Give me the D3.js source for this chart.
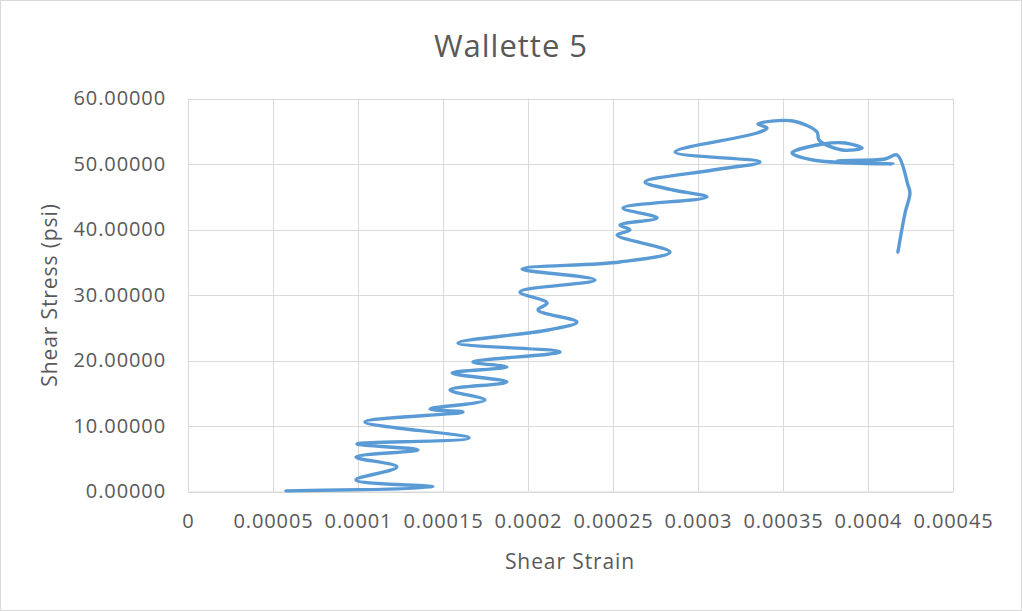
<!DOCTYPE html>
<html>
<head>
<meta charset="utf-8">
<script src="https://cdn.jsdelivr.net/npm/d3@7"></script>
<style>
  html, body { margin: 0; padding: 0; background: #fff; }
  svg { display: block; }
  text { font-family: "Open Sans", "Noto Sans", sans-serif; fill: #595959; }
</style>
</head>
<body>
<svg id="chart" width="1022" height="611"></svg>
<script>
// ---- data ----
const title = "Wallette 5";
const xLabel = "Shear Strain";
const yLabel = "Shear Stress (psi)";
const xTicks = [0, 0.00005, 0.0001, 0.00015, 0.0002, 0.00025, 0.0003, 0.00035, 0.0004, 0.00045];
const xTickLabels = ["0", "0.00005", "0.0001", "0.00015", "0.0002", "0.00025", "0.0003", "0.00035", "0.0004", "0.00045"];
const yTicks = [0, 10, 20, 30, 40, 50, 60];
const yTickLabels = ["0.00000", "10.00000", "20.00000", "30.00000", "40.00000", "50.00000", "60.00000"];

const shearStrain = [
  0.0000576, 0.0001441, 0.0000988, 0.0001229, 0.0000988, 0.0001353, 0.0000994, 0.0001653,
  0.0001041, 0.0001618, 0.0001424, 0.0001747, 0.0001541, 0.0001876, 0.0001553, 0.0001876,
  0.0001676, 0.0002188, 0.0001588, 0.0002118, 0.0002288, 0.0002059, 0.0002112, 0.0001953,
  0.0002394, 0.0001965, 0.0002541, 0.0002835, 0.0002524, 0.0002600, 0.0002541, 0.0002759,
  0.0002559, 0.0003053, 0.0002853, 0.0002688, 0.0003088, 0.0003365, 0.0002865, 0.0003347,
  0.0003406, 0.0003353, 0.0003559, 0.0003700, 0.0003712, 0.0003847, 0.0003965, 0.0003865,
  0.0003735, 0.0003553, 0.0003676, 0.0004147, 0.0003818, 0.0004100, 0.0004171, 0.0004235,
  0.0004247, 0.0004218, 0.0004176
];
const shearStress = [
  0.10, 0.69, 1.76, 3.74, 5.27, 6.34, 7.25, 8.17,
  10.61, 12.14, 12.60, 13.97, 15.50, 16.72, 18.09, 19.01,
  19.77, 21.30, 22.67, 24.66, 25.88, 27.71, 28.78, 30.46,
  32.29, 33.97, 35.04, 36.56, 39.16, 39.92, 40.69, 41.76,
  43.28, 44.96, 46.03, 47.25, 49.08, 50.31, 51.83, 54.73,
  55.50, 56.11, 56.56, 54.89, 53.66, 52.14, 52.44, 53.21,
  53.05, 51.68, 50.61, 50.00, 50.46, 50.76, 51.37, 46.79,
  45.57, 42.52, 36.56
];

// ---- layout ----
const W = 1022, H = 611;
const plot = { left: 188, right: 953, top: 98.5, bottom: 491.5 };

const svg = d3.select("#chart");

// outer border
svg.append("rect")
  .attr("x", 0.5).attr("y", 0.5)
  .attr("width", W - 1).attr("height", H - 1)
  .attr("fill", "#fff").attr("stroke", "#d9d9d9").attr("stroke-width", 1);

const x = d3.scaleLinear().domain([0, 0.00045]).range([plot.left, plot.right]);
const y = d3.scaleLinear().domain([0, 60]).range([plot.bottom, plot.top]);

// gridlines
const grid = svg.append("g");
grid.selectAll("line.h").data(yTicks).join("line")
  .attr("x1", plot.left).attr("x2", plot.right)
  .attr("y1", d => Math.round(y(d)) + 0.5).attr("y2", d => Math.round(y(d)) + 0.5)
  .attr("stroke", "#d9d9d9").attr("stroke-width", 1);
grid.selectAll("line.v").data(xTicks).join("line")
  .attr("y1", plot.top).attr("y2", plot.bottom)
  .attr("x1", d => Math.round(x(d)) + 0.5).attr("x2", d => Math.round(x(d)) + 0.5)
  .attr("stroke", "#d9d9d9").attr("stroke-width", 1);

// axes (labels only; lines drawn by gridlines)
const xAxis = d3.axisBottom(x).tickValues(xTicks)
  .tickFormat((d, i) => xTickLabels[i]).tickSize(0).tickPadding(22);
const gx = svg.append("g").attr("transform", `translate(0,${plot.bottom})`).call(xAxis);
gx.select(".domain").attr("stroke", "#d9d9d9");
gx.selectAll("text").style("font-size", "20px").style("letter-spacing", "0.9px")
  .attr("fill", "#595959").style("font-family", "\"Open Sans\", sans-serif");

const yAxis = d3.axisLeft(y).tickValues(yTicks)
  .tickFormat((d, i) => yTickLabels[i]).tickSize(0).tickPadding(22);
const gy = svg.append("g").attr("transform", `translate(${plot.left},0)`).call(yAxis);
gy.select(".domain").remove();
gy.selectAll("text").style("font-size", "20px").style("letter-spacing", "0.9px")
  .attr("fill", "#595959").style("font-family", "\"Open Sans\", sans-serif");

// line
const pts = shearStrain.map((s, i) => [s, shearStress[i]]);
const line = d3.line()
  .x(d => x(d[0])).y(d => y(d[1]))
  .curve(d3.curveCatmullRom.alpha(0.5));
svg.append("path")
  .datum(pts)
  .attr("d", line)
  .attr("fill", "none")
  .attr("stroke", "#5b9bd5")
  .attr("stroke-width", 3.4)
  .attr("stroke-linecap", "round")
  .attr("stroke-linejoin", "round");

// titles
svg.append("text")
  .attr("x", 511).attr("y", 57)
  .attr("text-anchor", "middle")
  .style("font-size", "31px")
  .style("letter-spacing", "1px")
  .text(title);

svg.append("text")
  .attr("x", 570).attr("y", 569)
  .attr("text-anchor", "middle")
  .style("font-size", "21px")
  .style("letter-spacing", "0.9px")
  .text(xLabel);

svg.append("text")
  .attr("transform", `translate(57,${(plot.top + plot.bottom) / 2}) rotate(-90)`)
  .attr("text-anchor", "middle")
  .style("font-size", "21px")
  .style("letter-spacing", "0.9px")
  .text(yLabel);
</script>
</body>
</html>
